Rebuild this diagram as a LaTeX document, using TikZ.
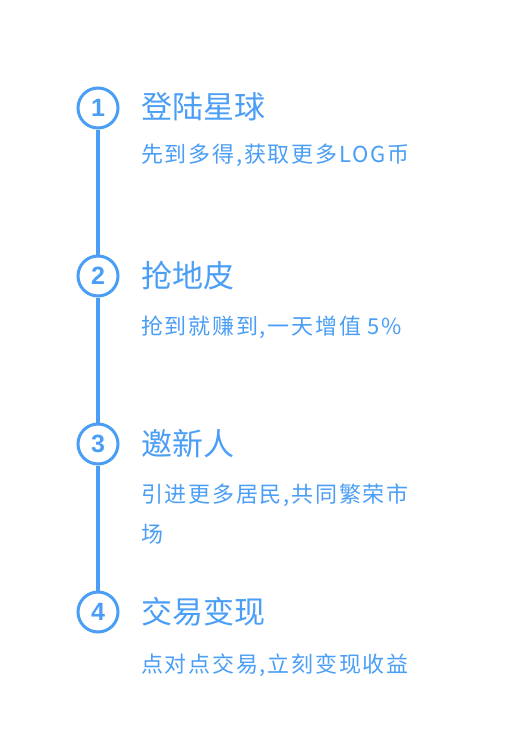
\documentclass[tikz,border=0pt]{standalone}
\usepackage{fontspec}
\setmainfont{Liberation Sans}
\newfontfamily\cjk{Noto Sans CJK SC}
\newfontfamily\cjksub[LetterSpace=8]{Noto Sans CJK SC}
\definecolor{stepblue}{RGB}{74,158,245}
\begin{document}
\begin{tikzpicture}[
  x=1pt, y=-1pt,
  num/.style={circle,draw=stepblue,line width=3pt,minimum size=40pt,inner sep=0pt,
    text=stepblue,font=\fontsize{25}{25}\selectfont\bfseries},
  ttl/.style={anchor=base west,inner sep=0pt,text=stepblue,font=\cjk\fontsize{31}{31}\selectfont},
  sub/.style={anchor=base west,inner sep=0pt,text=stepblue,font=\cjksub\fontsize{22}{22}\selectfont},
  rail/.style={draw=stepblue,line width=4pt}
]
\useasboundingbox[fill=white] (0,0) rectangle (504,752);

% ---- step 1 ----
\node[num] (c1) at (98,108) {1};
\node[ttl] (t1) at (141,118) {登陆星球};
\node[sub] (s1) at (141,162) {先到多得,获取更多LOG币};

% ---- step 2 ----
\node[num] (c2) at (98,276) {2};
\node[ttl] (t2) at (141,287) {抢地皮};
\node[sub] (s2) at (141,334) {抢到就赚到,一天增值 5\%};

% ---- step 3 ----
\node[num] (c3) at (98,444) {3};
\node[ttl] (t3) at (141,455) {邀新人};
\node[sub] (s3a) at (141,502) {引进更多居民,共同繁荣市};
\node[sub] (s3b) at (141,542) {场};

% ---- step 4 ----
\node[num] (c4) at (98,612) {4};
\node[ttl] (t4) at (141,623) {交易变现};
\node[sub] (s4) at (141,672) {点对点交易,立刻变现收益};

% Rail between the circles
\draw[rail] (c1) -- (c2);
\draw[rail] (c2) -- (c3);
\draw[rail] (c3) -- (c4);
\end{tikzpicture}
\end{document}
